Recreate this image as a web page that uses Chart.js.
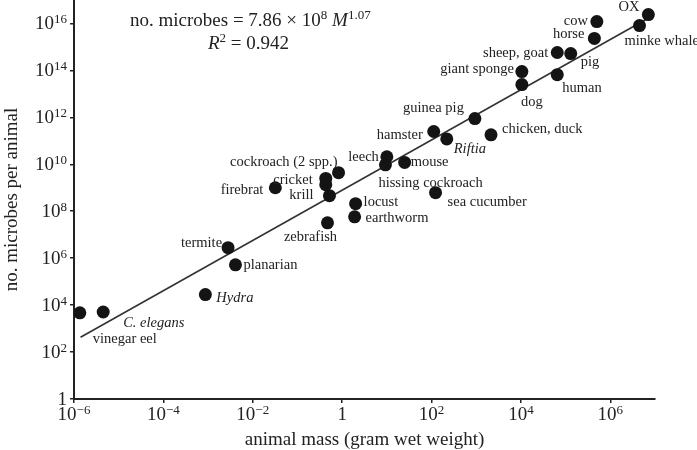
<!DOCTYPE html>
<html>
<head>
<meta charset="utf-8">
<script src="https://cdn.jsdelivr.net/npm/chart.js@4"></script>
<style>
  html, body { margin: 0; padding: 0; background: #fff; }
  #wrap { width: 697px; height: 450px; }
</style>
</head>
<body>
<div id="wrap"><canvas id="chart" width="697" height="450"></canvas></div>
<script>
// animals, mass in gram wet weight, number of microbes per animal
const animals = [
  'vinegar eel', 'C. elegans', 'Hydra', 'planarian', 'termite', 'zebrafish',
  'krill', 'cricket', '', 'cockroach (2 spp.)', 'firebrat', 'leech',
  'hissing cockroach', 'mouse', 'locust', 'earthworm', 'sea cucumber', 'hamster',
  'Riftia', 'guinea pig', 'chicken, duck', 'giant sponge', 'dog', 'sheep, goat',
  'pig', 'human', 'horse', 'cow', 'OX', 'minke whale'
];
const massGrams = [
  1.35e-6, 4.5e-6, 8.7e-4, 4.1e-3, 2.8e-3, 0.47,
  0.52, 0.43, 0.43, 0.83, 0.032, 10,
  9.3, 25, 2.0, 1.9, 123, 112,
  219, 933, 2140, 1.05e4, 1.05e4, 6.5e4,
  1.3e5, 6.5e4, 4.4e5, 5.0e5, 7.1e6, 4.5e6
];
const microbes = [
  4.7e3, 5.1e3, 2.8e4, 5.2e5, 2.8e6, 3.2e7,
  4.6e8, 1.35e9, 2.5e9, 4.4e9, 1.0e9, 2.1e10,
  9.5e9, 1.2e10, 2.1e8, 5.8e7, 6.2e8, 2.5e11,
  1.2e11, 8.9e11, 1.8e11, 8.9e13, 2.5e13, 5.8e14,
  5.2e14, 6.6e13, 2.3e15, 1.2e16, 2.4e16, 8.1e15
];
const italicNames = ['C. elegans', 'Hydra', 'Riftia'];

// fit: no. microbes = 7.86e8 * M^1.07
const fitCoef = 7.86e8;
const fitExp = 1.07;
const fitRange = [1.4e-6, 7.0e6];

const xTicks = [1e-6, 1e-4, 1e-2, 1, 1e2, 1e4, 1e6];
const yTicks = [1, 1e2, 1e4, 1e6, 1e8, 1e10, 1e12, 1e14, 1e16];

// label placement next to each dot: [dx, dy, align]
const labelPlace = [
  [13, 26, 'left'], [20, 11, 'left'], [11, 4, 'left'], [8, 0, 'left'], [-6, -4, 'right'], [-17, 14, 'center'],
  [-16, 0, 'right'], [-13, -5, 'right'], [0, 0, 'left'], [-1, -10, 'right'], [-12, 2, 'right'], [-8, 0, 'right'],
  [-7, 18, 'left'], [6, 0, 'left'], [8, -1, 'left'], [11, 1, 'left'], [12, 10, 'left'], [-11, 4, 'right'],
  [7, 10, 'left'], [-11, -10, 'right'], [11, -6, 'left'], [-8, -2, 'right'], [10, 18, 'center'], [-9, 1, 'right'],
  [10, 9, 'left'], [5, 14, 'left'], [-10, -4, 'right'], [-9, 0, 'right'], [-9, -7, 'right'], [-15, 16, 'left']
];

const SERIF = '"Liberation Serif", "DejaVu Serif", serif';

const points = massGrams.map((m, i) => ({ x: m, y: microbes[i] }));
const fitLine = fitRange.map(m => ({ x: m, y: fitCoef * Math.pow(m, fitExp) }));

// draws text pieces (with raised superscripts), returns width
function drawRich(ctx, parts, x, y, measureOnly) {
  let cx = x;
  parts.forEach(p => {
    ctx.font = (p.italic ? 'italic ' : '') + p.size + 'px ' + SERIF;
    if (!measureOnly) ctx.fillText(p.t, cx, y - (p.rise || 0));
    cx += ctx.measureText(p.t).width;
  });
  return cx - x;
}

function powParts(v) {
  const e = Math.round(Math.log10(v));
  if (e === 0) return [{ t: '1', size: 19 }];
  return [{ t: '10', size: 19 }, { t: (e < 0 ? '\u2212' : '') + Math.abs(e), size: 13, rise: 6 }];
}

const extrasPlugin = {
  id: 'extras',
  afterDraw(chart) {
    const { ctx } = chart;
    const xs = chart.scales.x, ys = chart.scales.y;
    ctx.save();
    ctx.fillStyle = '#222';
    ctx.textBaseline = 'alphabetic';
    ctx.textAlign = 'left';

    yTicks.forEach(v => {
      const parts = powParts(v);
      const w = drawRich(ctx, parts, 0, 0, true);
      drawRich(ctx, parts, 67 - w, ys.getPixelForValue(v) + 6);
    });
    xTicks.forEach(v => {
      const parts = powParts(v);
      const w = drawRich(ctx, parts, 0, 0, true);
      drawRich(ctx, parts, xs.getPixelForValue(v) - w / 2, ys.bottom + 21);
    });

    // fit equation
    drawRich(ctx, [
      { t: 'no. microbes = 7.86 \u00d7 10', size: 19 },
      { t: '8', size: 13, rise: 7 },
      { t: ' M', size: 19, italic: true },
      { t: '1.07', size: 13, rise: 7 }
    ], 130, 26);
    drawRich(ctx, [
      { t: 'R', size: 19, italic: true },
      { t: '2', size: 13, rise: 7 },
      { t: ' = 0.942', size: 19 }
    ], 208, 49);

    // point labels
    const meta = chart.getDatasetMeta(1);
    ctx.textBaseline = 'middle';
    animals.forEach((name, i) => {
      if (!name) return;
      const el = meta.data[i];
      const [dx, dy, align] = labelPlace[i];
      ctx.font = (italicNames.includes(name) ? 'italic ' : '') + '14.5px ' + SERIF;
      ctx.textAlign = align;
      ctx.fillText(name, el.x + dx, el.y + dy);
    });
    ctx.restore();
  }
};

new Chart(document.getElementById('chart'), {
  type: 'scatter',
  data: {
    datasets: [
      {
        type: 'line',
        data: fitLine,
        borderColor: '#333',
        borderWidth: 1.6,
        pointRadius: 0,
        fill: false,
        order: 2
      },
      {
        data: points,
        backgroundColor: '#141414',
        borderColor: '#141414',
        borderWidth: 0,
        pointRadius: 6.5,
        order: 1
      }
    ]
  },
  options: {
    responsive: false,
    animation: false,
    layout: { autoPadding: false, padding: { left: 0, right: 42, top: 0, bottom: 0 } },
    plugins: { legend: { display: false }, tooltip: { enabled: false } },
    scales: {
      x: {
        type: 'logarithmic',
        min: 1e-6,
        max: 1e7,
        afterBuildTicks: s => { s.ticks = xTicks.map(v => ({ value: v })); },
        afterFit: s => { s.height = 51; },
        ticks: { display: false },
        grid: { display: true, drawOnChartArea: false, drawTicks: true, tickLength: 4, color: '#222', lineWidth: 1.5 },
        border: { display: true, color: '#222', width: 2 },
        title: {
          display: true,
          text: 'animal mass (gram wet weight)',
          color: '#222',
          font: { family: SERIF, size: 19 },
          padding: { top: 0, bottom: -1 }
        }
      },
      y: {
        type: 'logarithmic',
        min: 1,
        max: 1e17,
        afterBuildTicks: s => { s.ticks = yTicks.map(v => ({ value: v })); },
        afterFit: s => { s.width = 74; },
        ticks: { display: false },
        grid: { display: true, drawOnChartArea: false, drawTicks: true, tickLength: 4, color: '#222', lineWidth: 1.5 },
        border: { display: true, color: '#222', width: 2 },
        title: {
          display: true,
          text: 'no. microbes per animal',
          color: '#222',
          font: { family: SERIF, size: 19 },
          padding: { top: 1, bottom: 0 }
        }
      }
    }
  },
  plugins: [extrasPlugin]
});
</script>
</body>
</html>
